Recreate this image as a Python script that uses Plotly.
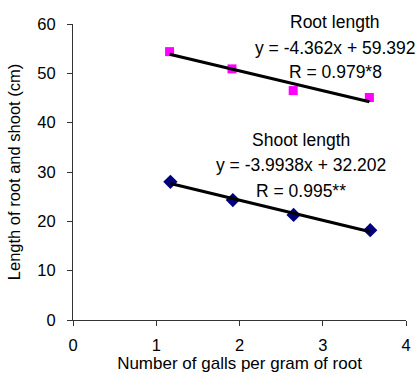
import numpy as np
import plotly.graph_objects as go

# Data
galls_root = [1.16, 1.91, 2.645, 3.56]
root_length = [54.4, 50.9, 46.5, 45.1]
galls_shoot = [1.17, 1.92, 2.65, 3.57]
shoot_length = [28.0, 24.3, 21.3, 18.2]

x_ticks = [0, 1, 2, 3, 4]
y_ticks = [0, 10, 20, 30, 40, 50, 60]

root_label = ["Root length", "y = -4.362x + 59.392", "R = 0.979*8"]
shoot_label = ["Shoot length", "y = -3.9938x + 32.202", "R = 0.995**"]

FONT = "Liberation Sans, Arial, sans-serif"
FS = 17.5

fig = go.Figure()
fig.add_trace(go.Scatter(x=galls_root, y=root_length, mode="markers",
                         marker=dict(symbol="square", size=9, color="#FF00FF"),
                         cliponaxis=False, showlegend=False))
fig.add_trace(go.Scatter(x=galls_shoot, y=shoot_length, mode="markers",
                         marker=dict(symbol="diamond", size=11, color="#000080"),
                         cliponaxis=False, showlegend=False))

for xs, ys in [(galls_root, root_length), (galls_shoot, shoot_length)]:
    m, b = np.polyfit(xs, ys, 1)
    xl = np.array([min(xs), max(xs)])
    fig.add_trace(go.Scatter(x=xl, y=m * xl + b, mode="lines",
                             line=dict(color="black", width=3),
                             cliponaxis=False, showlegend=False))

root_pos = [(0.787, 1.007), (0.787, 0.919), (0.787, 0.838)]
shoot_pos = [(0.685, 0.608), (0.685, 0.524), (0.685, 0.436)]
for labels, pos in [(root_label, root_pos), (shoot_label, shoot_pos)]:
    for t, (px, py) in zip(labels, pos):
        fig.add_annotation(x=px, y=py, xref="paper", yref="paper", text=t,
                           showarrow=False, xanchor="center", yanchor="middle",
                           font=dict(family=FONT, size=FS, color="black"))

fig.update_layout(
    width=419, height=374,
    margin=dict(l=73, r=13, t=24, b=54),
    paper_bgcolor="white", plot_bgcolor="white",
    font=dict(family=FONT, size=FS, color="black"),
)
fig.update_xaxes(range=[0, 4], tickvals=x_ticks, ticks="outside", ticklen=5,
                 tickcolor="#333", showline=True, linecolor="#333", linewidth=1,
                 showgrid=False, zeroline=False, ticklabelstandoff=5,
                 tickfont=dict(size=16.5),
                 automargin=False,
                 title=dict(text="Number of galls per gram of root", standoff=0,
                            font=dict(size=17)))
fig.update_yaxes(range=[0, 60], tickvals=y_ticks, ticks="outside", ticklen=5,
                 tickcolor="#333", showline=True, linecolor="#333", linewidth=1,
                 showgrid=False, zeroline=False, ticklabelstandoff=8,
                 tickfont=dict(size=16.5),
                 automargin=False,
                 title=dict(text="Length of root and shoot (cm)", standoff=12,
                            font=dict(size=16.5)))

fig.write_html("out.html", config={"displayModeBar": False},
               post_script="document.body.style.margin='0';document.body.style.overflow='hidden';")
